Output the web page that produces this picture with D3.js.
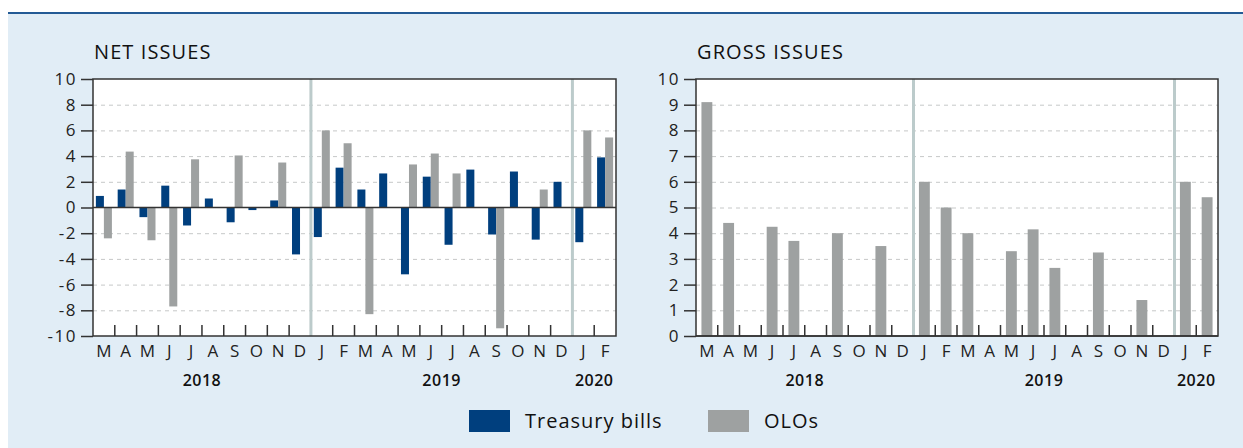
<!DOCTYPE html>
<html>
<head>
<meta charset="utf-8">
<script src="https://cdn.jsdelivr.net/npm/d3@7"></script>
<style>
  body { margin: 0; background: #fff; }
  svg { display: block; font-family: "Open Sans", sans-serif; }
</style>
</head>
<body>
<div id="graphic"></div>
<script>
// months from March 2018 to February 2020
var months = ["M", "A", "M", "J", "J", "A", "S", "O", "N", "D",
  "J", "F", "M", "A", "M", "J", "J", "A", "S", "O", "N", "D",
  "J", "F"];
var years = [{ label: "2018", from: 0, to: 10 }, { label: "2019", from: 10, to: 22 }, { label: "2020", from: 22, to: 24 }];

// net issues (EUR bn)
var netTreasuryBills = [0.9, 1.4, -0.75, 1.7, -1.4, 0.7, -1.15, -0.2, 0.55, -3.65,
  -2.3, 3.1, 1.4, 2.65, -5.2, 2.4, -2.9, 2.95, -2.1, 2.8, -2.5, 2.0,
  -2.7, 3.9];
var netOLOs = [-2.4, 4.35, -2.55, -7.7, 3.75, 0, 4.05, 0, 3.5, 0,
  6.0, 5.0, -8.3, 0, 3.35, 4.2, 2.65, 0, -9.4, 0, 1.4, 0,
  6.0, 5.45];

// gross issues (EUR bn)
var grossOLOs = [9.1, 4.4, 0, 4.25, 3.7, 0, 4.0, 0, 3.5, 0,
  6.0, 5.0, 4.0, 0, 3.3, 4.15, 2.65, 0, 3.25, 0, 1.4, 0,
  6.0, 5.4];

var netTicks = [-10, -8, -6, -4, -2, 0, 2, 4, 6, 8, 10];
var grossTicks = [0, 1, 2, 3, 4, 5, 6, 7, 8, 9, 10];

var blue = "#003f7e", grey = "#9ea1a1";

var W = 1243, H = 448;
var svg = d3.select("#graphic").append("svg")
  .attr("width", W)
  .attr("height", H);

// panel background + top rule
svg.append("rect").attr("x", 8).attr("y", 13).attr("width", W - 8).attr("height", H - 13).attr("fill", "#e1edf6");
svg.append("rect").attr("x", 8).attr("y", 12).attr("width", W - 8).attr("height", 2).attr("fill", "#235a95");

var plotTop = 79, plotBottom = 336;
var idx = d3.range(months.length);

function drawPanel(opt) {
  var g = svg.append("g");
  var x = d3.scaleBand().domain(idx).range([opt.left, opt.right]);
  var y = d3.scaleLinear().domain(opt.domain).range([plotBottom, plotTop]);

  g.append("rect")
    .attr("x", opt.left).attr("y", plotTop)
    .attr("width", opt.right - opt.left).attr("height", plotBottom - plotTop)
    .attr("fill", "#fff");

  // title
  g.append("text")
    .attr("x", opt.left + 1).attr("y", 59)
    .attr("font-size", 20).attr("letter-spacing", 1.1)
    .attr("fill", "#111")
    .text(opt.title);

  // dashed grid
  g.selectAll(".grid")
    .data(opt.ticks.filter(function (t) { return t !== 0 && t !== opt.domain[1] && t !== opt.domain[0]; }))
    .enter().append("line")
    .attr("x1", opt.left).attr("x2", opt.right)
    .attr("y1", function (d) { return y(d) + 0.5; })
    .attr("y2", function (d) { return y(d) + 0.5; })
    .attr("stroke", "#c6c8c8")
    .attr("stroke-dasharray", "4,4");

  // year separators
  g.selectAll(".sep")
    .data(years.slice(1))
    .enter().append("line")
    .attr("x1", function (d) { return x(d.from); })
    .attr("x2", function (d) { return x(d.from); })
    .attr("y1", plotTop).attr("y2", plotBottom)
    .attr("stroke", "#bccbcb").attr("stroke-width", 3);

  // month ticks (inside, from the bottom)
  var bounds = d3.range(1, months.length).filter(function (i) {
    return !years.some(function (yr) { return yr.from === i; });
  });
  g.selectAll(".mtick")
    .data(bounds)
    .enter().append("line")
    .attr("x1", function (d) { return x(d); })
    .attr("x2", function (d) { return x(d); })
    .attr("y1", plotBottom).attr("y2", plotBottom - 11)
    .attr("stroke", "#333").attr("stroke-width", 1.5);

  opt.bars(g, x, y);

  // zero line
  g.append("line")
    .attr("x1", opt.left).attr("x2", opt.right)
    .attr("y1", y(0)).attr("y2", y(0))
    .attr("stroke", "#333").attr("stroke-width", 1.5);

  // frame
  g.append("rect")
    .attr("x", opt.left).attr("y", plotTop)
    .attr("width", opt.right - opt.left).attr("height", plotBottom - plotTop)
    .attr("fill", "none").attr("stroke", "#333").attr("stroke-width", 1.5);

  // y axis
  var yAxis = g.append("g")
    .attr("transform", "translate(" + opt.left + ",0)")
    .call(d3.axisLeft(y).tickValues(opt.ticks).tickSize(12).tickPadding(4)
      .tickFormat(function (d) { return String(d); }));
  yAxis.select(".domain").remove();
  yAxis.selectAll(".tick line").attr("stroke", "#333").attr("stroke-width", 1.5);
  yAxis.selectAll(".tick text")
    .attr("font-family", "Open Sans").attr("font-size", 17).attr("letter-spacing", 1.5)
    .attr("fill", "#222");

  // month labels
  g.selectAll(".mlab")
    .data(idx)
    .enter().append("text")
    .attr("x", function (d) { return x(d) + x.bandwidth() / 2; })
    .attr("y", 357)
    .attr("text-anchor", "middle")
    .attr("font-size", 17)
    .attr("fill", "#222")
    .text(function (d) { return months[d]; });

  // year labels
  g.selectAll(".ylab")
    .data(years)
    .enter().append("text")
    .attr("x", function (d) { return (x(d.from) + x(d.to - 1) + x.bandwidth()) / 2; })
    .attr("y", 386)
    .attr("text-anchor", "middle")
    .attr("font-size", 16).attr("font-weight", 600).attr("letter-spacing", 0.5)
    .attr("fill", "#111")
    .text(function (d) { return d.label; });
}

drawPanel({
  title: "NET ISSUES", left: 93, right: 616, domain: [-10, 10], ticks: netTicks,
  bars: function (g, x, y) {
    var series = [{ key: "tb", values: netTreasuryBills, color: blue }, { key: "olo", values: netOLOs, color: grey }];
    var x1 = d3.scaleBand().domain(series.map(function (s) { return s.key; }))
      .range([0, x.bandwidth()]).paddingOuter(0.36);
    series.forEach(function (s) {
      g.selectAll(".bar-" + s.key)
        .data(s.values)
        .enter().append("rect")
        .attr("x", function (d, i) { return x(i) + x1(s.key); })
        .attr("width", x1.bandwidth())
        .attr("y", function (d) { return y(Math.max(0, d)); })
        .attr("height", function (d) { return Math.abs(y(d) - y(0)); })
        .attr("fill", s.color);
    });
  }
});

drawPanel({
  title: "GROSS ISSUES", left: 696, right: 1218, domain: [0, 10], ticks: grossTicks,
  bars: function (g, x, y) {
    var xb = d3.scaleBand().domain([0]).range([0, x.bandwidth()]).paddingOuter(0.5);
    g.selectAll(".bar")
      .data(grossOLOs)
      .enter().append("rect")
      .attr("x", function (d, i) { return x(i) + xb(0); })
      .attr("width", xb.bandwidth())
      .attr("y", function (d) { return y(d); })
      .attr("height", function (d) { return y(0) - y(d); })
      .attr("fill", grey);
  }
});

// legend
var legend = [{ name: "Treasury bills", color: blue, x: 469 }, { name: "OLOs", color: grey, x: 708 }];
var lg = svg.selectAll(".legend").data(legend).enter().append("g");
lg.append("rect")
  .attr("x", function (d) { return d.x; }).attr("y", 410)
  .attr("width", 41).attr("height", 22)
  .attr("fill", function (d) { return d.color; });
lg.append("text")
  .attr("x", function (d) { return d.x + 56; }).attr("y", 428)
  .attr("font-size", 20).attr("letter-spacing", 1)
  .attr("fill", "#111")
  .text(function (d) { return d.name; });
</script>
</body>
</html>
